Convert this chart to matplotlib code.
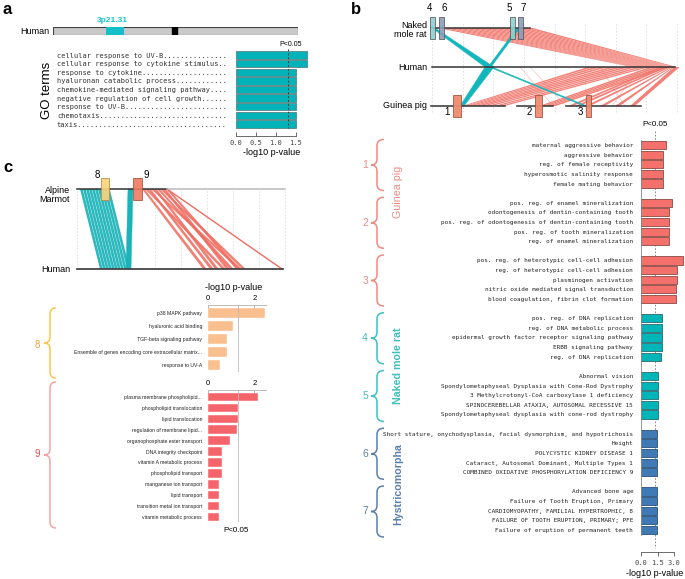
import numpy as np
import matplotlib.pyplot as plt
from matplotlib.patches import Rectangle, Polygon, PathPatch
from matplotlib.path import Path

plt.rcParams['font.family'] = ['Liberation Sans', 'DejaVu Sans']
MONO = 'DejaVu Sans Mono'

# ---------------- data ----------------
# panel a: GO terms near 3p21.31
a_terms = ["cellular response to UV-B", "cellular response to cytokine stimulus",
           "response to cytokine", "hyaluronan catabolic process",
           "chemokine-mediated signaling pathway", "negative regulation of cell growth",
           "response to UV-B", "chemotaxis", "taxis"]
a_vals = [1.78, 1.78, 1.49, 1.49, 1.49, 1.49, 1.49, 1.49, 1.49]
chrom_len = 198          # Mb
band_3p2131 = (43, 57)
centromere = (96, 100)

# panel b: enrichment per synteny block
b_labels = [
    ["maternal aggressive behavior", "aggressive behavior", "reg. of female receptivity",
     "hyperosmotic salinity response", "female mating behavior"],
    ["pos. reg. of enamel mineralization", "odontogenesis of dentin-containing tooth",
     "pos. reg. of odontogenesis of dentin-containing tooth", "pos. reg. of tooth mineralization",
     "reg. of enamel mineralization"],
    ["pos. reg. of heterotypic cell-cell adhesion", "reg. of heterotypic cell-cell adhesion",
     "plasminogen activation", "nitric oxide mediated signal transduction",
     "blood coagulation, fibrin clot formation"],
    ["pos. reg. of DNA replication", "reg. of DNA metabolic process",
     "epidermal growth factor receptor signaling pathway", "ERBB signaling pathway",
     "reg. of DNA replication"],
    ["Abnormal vision", "Spondylometaphyseal Dysplasia with Cone-Rod Dystrophy",
     "3 Methylcrotonyl-CoA carboxylase 1 deficiency", "SPINOCEREBELLAR ATAXIA, AUTOSOMAL RECESSIVE 15",
     "Spondylometaphyseal dysplasia with cone-rod dystrophy"],
    ["Short stature, onychodysplasia, facial dysmorphism, and hypotrichosis", "Height",
     "POLYCYSTIC KIDNEY DISEASE 1", "Cataract, Autosomal Dominant, Multiple Types 1",
     "COMBINED OXIDATIVE PHOSPHORYLATION DEFICIENCY 9"],
    ["Advanced bone age", "Failure of Tooth Eruption, Primary",
     "CARDIOMYOPATHY, FAMILIAL HYPERTROPHIC, 8", "FAILURE OF TOOTH ERUPTION, PRIMARY; PFE",
     "Failure of eruption of permanent teeth"],
]
b_vals = [
    [2.25, 2.0, 2.0, 2.0, 2.0],
    [2.82, 2.55, 2.52, 2.52, 2.52],
    [3.81, 3.21, 3.21, 3.15, 3.15],
    [1.92, 1.92, 1.92, 1.86, 1.8],
    [1.56, 1.56, 1.56, 1.56, 1.56],
    [1.47, 1.47, 1.47, 1.47, 1.47],
    [1.47, 1.47, 1.47, 1.47, 1.47],
]
b_species = ["Guinea pig", "Naked mole rat", "Hystricomorpha"]

# panel b synteny (positions along each chromosome track)
nmr_track = (431, 530)
human_track_b = (432, 675)
gp_tracks = [(431, 505), (517, 553), (566, 641)]
nmr_blocks = {"4": (430, 435), "6": (439, 444), "5": (510, 515), "7": (518, 523)}
gp_blocks = {"1": (453, 461), "2": (535, 542), "3": (586, 591)}
nmr_src = [438, 444, 450, 456, 462, 468, 474, 480, 486, 492, 498, 504, 510, 516, 522, 527]
nmr_dst = [632, 635, 638, 641, 644, 647, 650, 653, 656, 659, 662, 665, 668, 670, 672, 674]
gp_src = [462, 465, 468, 472, 476, 481, 487, 494, 500, 539, 543, 547, 551, 568, 575, 585, 600, 615, 630]
gp_dst = [588, 595, 602, 610, 617, 624, 631, 638, 645, 650, 655, 660, 665, 660, 664, 668, 671, 673, 674]
faint_hum = [520, 530, 600, 640]
faint_gp = [553, 566, 625, 612]
# cyan (inverted) blocks: (row_a, a0, a1, row_b, b0, b1)
cyan_b = [(2, 432, 435, 1, 485, 494), (1, 489, 492, 0, 584, 587),
          (2, 517, 520, 1, 488, 491), (1, 485, 494, 0, 460, 464)]

# panel c
c8_labels = ["p38 MAPK pathway", "hyaluronic acid binding", "TGF-beta signaling pathway",
             "Ensemble of genes encoding core extracellular matrix...", "response to UV-A"]
c8_vals = [2.48, 1.1, 0.82, 0.82, 0.5]
c9_labels = ["plasma membrane phospholipid...", "phospholipid translocation", "lipid translocation",
             "regulation of membrane lipid...", "organophosphate ester transport",
             "DNA integrity checkpoint", "vitamin A metabolic process", "phospholipid transport",
             "manganese ion transport", "lipid transport", "transition metal ion transport",
             "vitamin metabolic process"]
c9_vals = [2.17, 1.3, 1.3, 1.25, 0.93, 0.6, 0.6, 0.6, 0.47, 0.47, 0.47, 0.47]
marmot_dark = (77, 167)
marmot_light = (167, 285)
human_track_c = (77, 283)
c_blocks = {"8": (101, 109), "9": (133, 142)}
c_cyan_src = [80, 83, 86, 89, 92, 95, 98, 101, 104, 107]
c_cyan_dst = [100, 103, 106, 109, 112, 115, 118, 121, 124, 127]
c_red_src = [142, 145, 148, 151, 154, 157, 160, 163, 166]
c_red_dst = [203, 222, 210, 238, 215, 230, 242, 226, 236]
c_far = (167, 282)
c_wedge = (1, 128, 133, 0, 126, 131)

PVAL = 1.3  # -log10(0.05)

RED = '#f2766c'
CYAN = '#14b6bd'
GP_C = '#f08a80'
NMR_C = '#3cc0c0'
HYS_C = '#5a80ad'

# ---------------- figure ----------------
W, H = 685, 579
fig = plt.figure(figsize=(6.85, 5.79), dpi=100)


def pax(l, t, r, b):
    return fig.add_axes([l / W, 1 - b / H, (r - l) / W, (b - t) / H])


def link(ax, ra, a0, a1, rb, b0, b1, color, alpha=0.92, ec='none', lw=0.3):
    ax.add_patch(Polygon([(a0, ra), (a1, ra), (b1, rb), (b0, rb)], closed=True,
                         facecolor=color, edgecolor=ec, lw=lw, alpha=alpha))


def widths(pos, default):
    d = np.abs(np.diff(pos))
    w = np.minimum(np.append(d, default), default)
    return np.maximum(w - 0.3, 1.2)


def bundle(ax, ra, src, rb, dst, color, ws=6, wd=4, alpha=0.92):
    for s, d, w1, w2 in zip(src, dst, widths(src, ws), widths(dst, wd)):
        link(ax, ra, s, s + w1, rb, d, d + w2, color, alpha=alpha)


def brace(ax, xh, xm, xt, y0, y1, color, lw=1.1):
    ym = (y0 + y1) / 2
    r = min(6, (y1 - y0) / 6)
    verts = [(xh, y0), (xm, y0), (xm, y0 + r), (xm, ym - r), (xm, ym), (xt, ym),
             (xm, ym), (xm, ym + r), (xm, y1 - r), (xm, y1), (xh, y1)]
    codes = [Path.MOVETO, Path.CURVE3, Path.CURVE3, Path.LINETO, Path.CURVE3, Path.CURVE3,
             Path.CURVE3, Path.CURVE3, Path.LINETO, Path.CURVE3, Path.CURVE3]
    ax.add_patch(PathPatch(Path(verts, codes), fill=False, edgecolor=color, lw=lw))


# ---- panel a: ideogram ----
axi = pax(53, 27, 298, 35)
axi.set_xlim(0, chrom_len)
axi.set_ylim(0, 1)
axi.axis('off')
axi.add_patch(Rectangle((0, 0), chrom_len, 1, facecolor='#c9c9c9', edgecolor='#444', lw=0.8))
axi.add_patch(Rectangle((band_3p2131[0], 0), band_3p2131[1] - band_3p2131[0], 1,
                        facecolor='#16c0c8', edgecolor='none'))
axi.add_patch(Rectangle((centromere[0], 0), centromere[1] - centromere[0], 1,
                        facecolor='black', edgecolor='black'))

# ---- panel a: bars ----
axa = pax(236, 45, 308, 136)
rows = np.arange(len(a_vals))
axa.barh(rows, a_vals, height=0.85, color='#00b3b8', edgecolor='#4f7374', lw=0.5)
axa.set_xlim(0, 1.8)
axa.set_ylim(9.39, -1.16)
axa.plot([PVAL, PVAL], [-0.7, 8.5], ls=(0, (2, 2)), color='#333', lw=0.7)
axa.set_yticks(rows)
axa.set_yticklabels([t.ljust(40, '.') for t in a_terms], family=MONO, fontsize=5.0, color='#333')
axa.tick_params(axis='y', length=0, pad=6.5)
axa.set_xticks([0, 0.5, 1.0, 1.5])
axa.set_xticklabels(['0.0', '0.5', '1.0', '1.5'], family=MONO, fontsize=5, color='#444')
axa.tick_params(axis='x', direction='in', length=3, width=0.6, pad=3, color='#555')
for s in ['top', 'right', 'left']:
    axa.spines[s].set_visible(False)
axa.spines['bottom'].set_bounds(0, 1.5)
axa.spines['bottom'].set_linewidth(0.6)
axa.spines['bottom'].set_color('#555')
axa.set_xlabel('-log10 p-value', fontsize=6.5, labelpad=1)
axa.patch.set_alpha(0)

# ---- panel b: synteny ----
axs = pax(428, 5, 683, 125)
axs.set_xlim(428, 683)
axs.set_ylim(-0.487, 2.59)
axs.axis('off')
for gx in np.linspace(432, 677, 9):
    axs.plot([gx, gx], [-0.15, 2.15], ls=(0, (2, 2)), color='#dddddd', lw=0.6, zorder=0)
bundle(axs, 2, nmr_src, 1, nmr_dst, RED, ws=6, wd=3)
bundle(axs, 0, gp_src, 1, gp_dst, RED, ws=5, wd=6)
for h, g in zip(faint_hum, faint_gp):
    axs.plot([h, g], [1, 0], color=RED, lw=0.5, alpha=0.45)
for ra, a0, a1, rb, b0, b1 in cyan_b:
    link(axs, ra, a0, a1, rb, b0, b1, CYAN, alpha=1, ec=CYAN, lw=0.3)
axs.plot(nmr_track, [2, 2], color='#333', lw=1.1)
axs.plot(human_track_b, [1, 1], color='#333', lw=1.1)
for seg in gp_tracks:
    axs.plot(seg, [0, 0], color='#333', lw=1.1)
for i, (name, (x0, x1)) in enumerate(nmr_blocks.items()):
    fc = '#8fd0d0' if name in ('4', '5') else '#8d9db8'
    axs.add_patch(Rectangle((x0, 2 - 0.28), x1 - x0, 0.56, facecolor=fc, edgecolor='#555',
                            lw=0.6, alpha=0.9, zorder=3))
    dx = -3 if i % 2 == 0 else 3
    axs.text((x0 + x1) / 2 + dx, 2.51, name, ha='center', va='center', fontsize=7)
for name, (x0, x1) in gp_blocks.items():
    axs.add_patch(Rectangle((x0, -0.28), x1 - x0, 0.56, facecolor='#f08a6e', edgecolor='#a0503e',
                            lw=0.6, alpha=0.95, zorder=3))
    axs.text(x0 - 6, -0.15, name, ha='center', va='center', fontsize=7)

# ---- panel b: bars ----
axb = pax(641, 135, 685, 552)
b_cols = [GP_C, GP_C, GP_C, NMR_C, NMR_C, HYS_C, HYS_C]
bar_fc = ['#f4706a'] * 3 + ['#00b5b8'] * 2 + ['#3f7ab4'] * 2
bar_ec = ['#8a4a45'] * 3 + ['#2d6a6c'] * 2 + ['#2b4f78'] * 2
ticks, tlabels = [], []
for g, (labs, vals) in enumerate(zip(b_labels, b_vals)):
    r = 6 * g + np.arange(len(vals))
    axb.barh(r, vals, height=0.85, color=bar_fc[g], edgecolor=bar_ec[g], lw=0.6)
    ticks += list(r)
    tlabels += labs
axb.set_xlim(0, 3.95)
axb.set_ylim(42.29, -1.04)
axb.plot([PVAL, PVAL], [-1.5, 41.9], ls=(0, (2, 2)), color='#777', lw=0.6, clip_on=False, zorder=0)
axb.set_yticks(ticks)
axb.set_yticklabels(tlabels, family=MONO, fontsize=4.35, color='#222')
axb.tick_params(axis='y', length=0, pad=5.6)
axb.set_xticks([0, 1.5, 3.0])
axb.set_xticklabels(['0.0', '1.5', '3.0'], family=MONO, fontsize=5, color='#444')
axb.tick_params(axis='x', direction='out', length=3, width=0.6, pad=2.5, color='#555')
for s in ['top', 'right']:
    axb.spines[s].set_visible(False)
axb.spines['left'].set_bounds(-0.5, 40.5)
axb.spines['left'].set_color('#888')
axb.spines['left'].set_linewidth(0.6)
axb.spines['bottom'].set_bounds(0, 3.0)
axb.spines['bottom'].set_color('#555')
axb.spines['bottom'].set_linewidth(0.6)
axb.patch.set_alpha(0)

# ---- panel c: synteny ----
axc = pax(70, 170, 290, 280)
axc.set_xlim(70, 290)
axc.set_ylim(-0.1375, 1.2375)
axc.axis('off')
for gx in np.linspace(77, 285, 9):
    axc.plot([gx, gx], [0, 1], ls=(0, (2, 2)), color='#dddddd', lw=0.6, zorder=0)
bundle(axc, 1, c_cyan_src, 0, c_cyan_dst, '#1ab3b8', ws=3, wd=3)
link(axc, *c_wedge, '#1ab3b8', alpha=1, ec='#1ab3b8', lw=0.3)
bundle(axc, 1, c_red_src, 0, c_red_dst, '#ef6b5f', ws=3, wd=4, alpha=0.85)
axc.plot(c_far, [1, 0], color='#ef6b5f', lw=1.0)
axc.plot(marmot_dark, [1, 1], color='#333', lw=1.1)
axc.plot(marmot_light, [1, 1], color='#bbbbbb', lw=1.1)
axc.plot(human_track_c, [0, 0], color='#444', lw=1.3)
for name, (x0, x1) in c_blocks.items():
    fc, ec = ('#fcd27c', '#b08a40') if name == '8' else ('#f07a60', '#a04a3c')
    axc.add_patch(Rectangle((x0, 1 - 0.14), x1 - x0, 0.28, facecolor=fc, edgecolor=ec,
                            lw=0.6, alpha=0.9, zorder=3))
    tx = x0 - 4 if name == '8' else x1 + 4
    axc.text(tx, 1.175, name, ha='center', va='center', fontsize=7)

# ---- panel c: bars ----
c_specs = [(pax(208, 305, 267, 372), c8_labels, c8_vals, '#f9bf8f', (4.54, -0.615)),
           (pax(208, 390, 267, 522), c9_labels, c9_vals, '#f6646b', (11.46, -0.64))]
for ax, labs, vals, col, yl in c_specs:
    r = np.arange(len(vals))
    ax.barh(r, vals, height=0.78, color=col, edgecolor='white', lw=0.3)
    ax.set_xlim(0, 2.55)
    ax.set_ylim(*yl)
    ax.axvline(PVAL, color='#bbbbbb', lw=0.6)
    ax.set_yticks(r)
    ax.set_yticklabels(labs, fontsize=3.7, color='#222')
    ax.tick_params(axis='y', length=0, pad=4.3)
    ax.xaxis.tick_top()
    ax.set_xticks([0, 2])
    ax.tick_params(axis='x', direction='in', length=2, width=0.5, color='#999',
                   labelsize=5.5, pad=2)
    for s in ['bottom', 'right', 'left']:
        ax.spines[s].set_visible(False)
    ax.spines['top'].set_color('#bbbbbb')
    ax.spines['top'].set_linewidth(0.7)
    ax.spines['top'].set_bounds(0, 2.5)
    ax.patch.set_alpha(0)

# ---- overlay: labels and braces ----
ov = fig.add_axes([0, 0, 1, 1])
ov.set_xlim(0, W)
ov.set_ylim(H, 0)
ov.axis('off')
ov.text(3, 10, 'a', fontsize=12, fontweight='bold', va='center')
ov.text(351, 9, 'b', fontsize=12, fontweight='bold', va='center')
ov.text(3, 168, 'c', fontsize=12, fontweight='bold', va='center')
ov.text(112, 20, '3p21.31', color='#1ec3cc', fontsize=6, fontweight='bold', ha='center', va='center')
ov.text(49, 32, 'Human', fontsize=6.5, ha='right', va='center')
ov.text(47, 90, 'GO terms', fontsize=9.5, rotation=90, ha='center', va='center')
ov.text(291, 45, 'P<0.05', fontsize=5, ha='center', va='center')

ov.text(427, 30, 'Naked\nmole rat', fontsize=6.5, ha='right', va='center', multialignment='right',
        linespacing=1.0)
ov.text(427, 67, 'Human', fontsize=6.5, ha='right', va='center')
ov.text(427, 106, 'Guinea pig', fontsize=6.5, ha='right', va='center')
ov.text(655, 125, 'P<0.05', fontsize=5.8, ha='center', va='center')
ov.text(683, 573, '-log10 p-value', fontsize=6.5, ha='right', va='center')

row0, step = 145, 9.625
for g in range(7):
    y0 = row0 + step * 6 * g - 5.5
    y1 = row0 + step * (6 * g + 4) + 7
    brace(ov, 384, 377, 371, y0, y1, b_cols[g])
    ov.text(368, (y0 + y1) / 2, str(g + 1), color=b_cols[g], fontsize=7.5, ha='right', va='center')
ov.text(398, 192, b_species[0], color=GP_C, fontsize=7.7, rotation=90, ha='center', va='center')
ov.text(398, 366, b_species[1], color=NMR_C, fontsize=7.7, fontweight='bold', rotation=90,
        ha='center', va='center')
ov.text(398, 484, b_species[2], color=HYS_C, fontsize=7.7, fontweight='bold', rotation=90,
        ha='center', va='center')

ov.text(70, 195, 'Alpine\nMarmot', fontsize=6.5, ha='right', va='center', multialignment='right',
        linespacing=1.0)
ov.text(70, 269, 'Human', fontsize=6.5, ha='right', va='center')
ov.text(234, 288, '-log10 p-value', fontsize=6.5, ha='center', va='center')
ov.text(236, 530, 'P<0.05', fontsize=5.8, ha='center', va='center')
brace(ov, 56, 50, 44, 308, 378, '#f9c74f')
ov.text(40, 345, '8', color='#f5a23a', fontsize=7, ha='right', va='center')
brace(ov, 56, 50, 44, 382, 528, '#f5a3a3')
ov.text(40, 454, '9', color='#f24b4b', fontsize=7, ha='right', va='center')

fig.savefig('out.png', dpi=100)
